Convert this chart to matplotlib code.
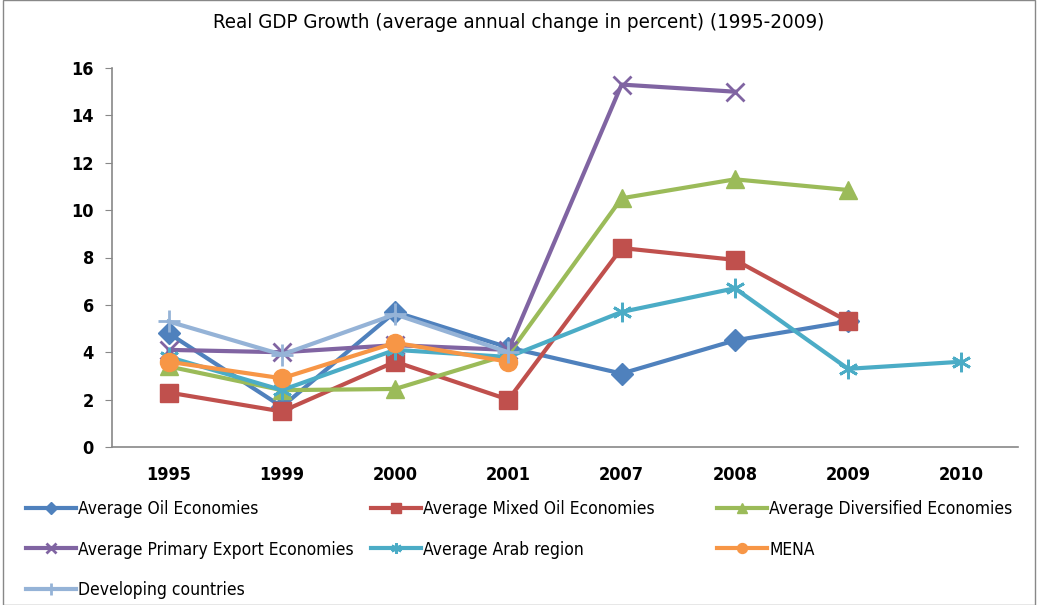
import numpy as np
import matplotlib.pyplot as plt
from matplotlib.patches import Rectangle

nan = np.nan
years = ['1995', '1999', '2000', '2001', '2007', '2008', '2009', '2010']

oil = [4.8, 1.7, 5.7, 4.2, 3.1, 4.5, 5.3, nan]
mixed_oil = [2.3, 1.5, 3.6, 2.0, 8.4, 7.9, 5.3, nan]
diversified = [3.4, 2.4, 2.45, 3.9, 10.5, 11.3, 10.85, nan]
primary_export = [4.1, 4.0, 4.3, 4.1, 15.3, 15.0, nan, nan]
arab_region = [3.8, 2.4, 4.1, 3.8, 5.7, 6.7, 3.3, 3.6]
mena = [3.6, 2.9, 4.4, 3.6, nan, nan, nan, nan]
developing = [5.3, 3.9, 5.6, 4.0, nan, nan, nan, nan]

series = [
    ('Average Oil Economies', oil, '#4F81BD', 'D', 11),
    ('Average Mixed Oil Economies', mixed_oil, '#C0504D', 's', 13),
    ('Average Diversified Economies', diversified, '#9BBB59', '^', 13),
    ('Average Primary Export Economies', primary_export, '#8064A2', 'x', 13),
    ('Average Arab region', arab_region, '#4BACC6', (6, 2, 0), 14),
    ('MENA', mena, '#F79646', 'o', 13),
    ('Developing countries', developing, '#95B3D7', '+', 16),
]

plt.rcParams['font.family'] = ['DejaVu Sans']
plt.rcParams['font.stretch'] = 'condensed'

fig = plt.figure(figsize=(10.38, 6.05), dpi=100)
ax = fig.add_axes([112 / 1038, 1 - 447 / 605, (1018 - 112) / 1038, (447 - 68) / 605])

x = np.arange(len(years))
for name, vals, color, marker, ms in series:
    ax.plot(x, vals, color=color, lw=3, marker=marker, markersize=ms,
            markeredgewidth=2 if marker in ('x', '+', (6, 2, 0)) else 1,
            markeredgecolor=color, label=name)

ax.set_xlim(-0.5, len(years) - 0.5)
ax.set_ylim(0, 16)
ax.set_yticks(range(0, 17, 2))
ax.set_xticks(x)
ax.set_xticklabels(years, fontsize=13, fontweight='bold')
for lab in ax.get_yticklabels():
    lab.set_fontsize(13)
    lab.set_fontweight('bold')
ax.tick_params(axis='x', length=0, pad=14)
ax.tick_params(axis='y', length=5, color='#888888', pad=8)
for s in ['top', 'right']:
    ax.spines[s].set_visible(False)
for s in ['left', 'bottom']:
    ax.spines[s].set_color('#888888')
    ax.spines[s].set_linewidth(1.2)

fig.text(0.5, 1 - 23 / 605, 'Real GDP Growth (average annual change in percent) (1995-2009)',
         ha='center', va='center', fontsize=14.7)

# legend: three columns placed by hand, filled row by row
handles, labels = ax.get_legend_handles_labels()
columns = [[0, 3, 6], [1, 4], [2, 5]]
col_x = [26, 371, 717]
for idx, cx in zip(columns, col_x):
    leg = fig.legend([handles[i] for i in idx], [labels[i] for i in idx],
                     loc='upper left', bbox_to_anchor=(cx / 1038, 1 - 500 / 605),
                     frameon=False, fontsize=12.5, handlelength=2.9, handletextpad=0.1,
                     labelspacing=1.3, markerscale=0.55, borderpad=0, borderaxespad=0)

fig.patches.append(Rectangle((3 / 1038, 0), 1 - 6 / 1038, 1, transform=fig.transFigure,
                             fill=False, edgecolor='#888888', lw=1))

fig.savefig('out.png', dpi=100)
